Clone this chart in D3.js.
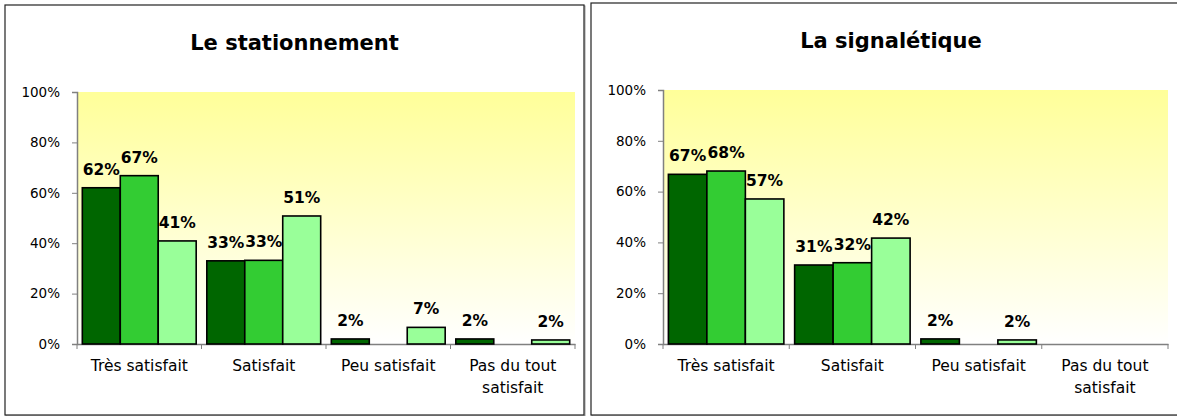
<!DOCTYPE html>
<html>
<head>
<meta charset="utf-8">
<script src="https://cdn.jsdelivr.net/npm/d3@7"></script>
<style>
  body { margin: 0; background: #fff; }
  svg { display: block; font-family: "DejaVu Sans", sans-serif; }
</style>
</head>
<body>
<svg id="chart" width="1177" height="416"></svg>
<script>
// categories and series values
const categories = ['Très satisfait', 'Satisfait', 'Peu satisfait', 'Pas du tout satisfait'];
const seriesColors = ['#006600', '#33cc33', '#99ff99'];
const yTicks = [0, 0.2, 0.4, 0.6, 0.8, 1];

const titleParking = 'Le stationnement';
const parkingValues = [
    [0.62, 0.33, 0.02, 0.02],
    [0.668, 0.332, 0, 0],
    [0.409, 0.508, 0.066, 0.016]
];

const titleSigns = 'La signalétique';
const signsValues = [
    [0.668, 0.311, 0.02, 0],
    [0.681, 0.32, 0, 0],
    [0.571, 0.417, 0.016, 0]
];

const FONT = '"DejaVu Sans", sans-serif';

const svg = d3.select('#chart');
const defs = svg.append('defs');

const grad = defs.append('linearGradient')
    .attr('id', 'plotBg')
    .attr('x1', 0).attr('y1', 0).attr('x2', 0).attr('y2', 1);
grad.append('stop').attr('offset', '0%').attr('stop-color', '#ffff99');
grad.append('stop').attr('offset', '100%').attr('stop-color', '#ffffff');

function wrap(text, width) {
    text.each(function () {
        const t = d3.select(this);
        const words = t.text().split(/\s+/);
        const x = t.attr('x') || 0;
        const y = t.attr('y');
        const dy = parseFloat(t.attr('dy')) || 0;
        let line = [];
        let lineNo = 0;
        let tspan = t.text(null).append('tspan').attr('x', x).attr('y', y).attr('dy', dy + 'em');
        words.forEach(w => {
            line.push(w);
            tspan.text(line.join(' '));
            if (tspan.node().getComputedTextLength() > width && line.length > 1) {
                line.pop();
                tspan.text(line.join(' '));
                line = [w];
                lineNo++;
                tspan = t.append('tspan').attr('x', x).attr('y', y)
                    .attr('dy', (lineNo * 1.4 + dy) + 'em').text(w);
            }
        });
    });
}

function drawPanel(box, plot, title, values) {
    const g = svg.append('g');

    // panel frame with a little shadow
    g.append('rect')
        .attr('x', box.x + 1).attr('y', box.y + 1)
        .attr('width', box.w).attr('height', box.h)
        .attr('fill', 'none').attr('stroke', '#999').attr('stroke-width', 1);
    g.append('rect')
        .attr('x', box.x).attr('y', box.y)
        .attr('width', box.w).attr('height', box.h)
        .attr('fill', '#fff').attr('stroke', '#222').attr('stroke-width', 1.2);

    g.append('text')
        .attr('x', box.x + box.w / 2)
        .attr('y', box.y + 45)
        .attr('text-anchor', 'middle')
        .attr('font-size', 21)
        .attr('font-weight', 'bold')
        .text(title);

    const x = d3.scaleBand().domain(categories).range([plot.x0, plot.x1]).padding(0);
    const xs = d3.scaleBand().domain(d3.range(values.length))
        .range([0, x.bandwidth()]).paddingInner(0).paddingOuter(0.14);
    const y = d3.scaleLinear().domain([0, 1]).range([plot.y1, plot.y0]);

    g.append('rect')
        .attr('x', plot.x0).attr('y', plot.y0)
        .attr('width', plot.x1 - plot.x0).attr('height', plot.y1 - plot.y0)
        .attr('fill', 'url(#plotBg)');

    // y axis
    const yAxis = g.append('g')
        .attr('transform', `translate(${plot.x0},0)`)
        .call(d3.axisLeft(y).tickValues(yTicks).tickFormat(d3.format('.0%')).tickSize(5).tickPadding(12));
    yAxis.attr('font-family', FONT).attr('font-size', 13.5);
    yAxis.select('.domain').attr('stroke', '#808080').attr('stroke-width', 1.5);
    yAxis.selectAll('.tick line').attr('stroke', '#808080');
    yAxis.selectAll('.tick text').attr('fill', '#000');

    // x axis: labels centred, ticks between categories
    const xAxis = g.append('g')
        .attr('transform', `translate(0,${plot.y1})`)
        .call(d3.axisBottom(x).tickSize(0).tickPadding(16));
    xAxis.attr('font-family', FONT).attr('font-size', 15.5);
    xAxis.select('.domain').attr('stroke', '#808080').attr('stroke-width', 1.5);
    xAxis.selectAll('.tick text').attr('fill', '#000')
        .call(wrap, x.bandwidth() - 14);
    xAxis.selectAll('.sep')
        .data(categories.map(c => x(c)).concat([plot.x1]))
        .join('line')
        .attr('class', 'sep')
        .attr('x1', d => d).attr('x2', d => d)
        .attr('y1', 0).attr('y2', 5)
        .attr('stroke', '#808080');

    // bars
    const bars = [];
    values.forEach((row, s) => row.forEach((v, c) => bars.push({ s, c, v })));
    const shown = bars.filter(d => d.v > 0);

    g.selectAll('.bar')
        .data(shown)
        .join('rect')
        .attr('class', 'bar')
        .attr('x', d => x(categories[d.c]) + xs(d.s))
        .attr('y', d => y(d.v))
        .attr('width', xs.bandwidth())
        .attr('height', d => y(0) - y(d.v))
        .attr('fill', d => seriesColors[d.s])
        .attr('stroke', '#000')
        .attr('stroke-width', 1.6);

    g.selectAll('.lbl')
        .data(shown)
        .join('text')
        .attr('class', 'lbl')
        .attr('x', d => x(categories[d.c]) + xs(d.s) + xs.bandwidth() / 2)
        .attr('y', d => y(d.v) - 13)
        .attr('text-anchor', 'middle')
        .attr('font-size', 15.5)
        .attr('font-weight', 'bold')
        .text(d => d3.format('.0%')(d.v));
}

drawPanel({ x: 5, y: 5, w: 579, h: 410 }, { x0: 77, x1: 575, y0: 92, y1: 344 }, titleParking, parkingValues);
drawPanel({ x: 591, y: 3, w: 600, h: 412 }, { x0: 663, x1: 1168, y0: 90, y1: 344 }, titleSigns, signsValues);
</script>
</body>
</html>
